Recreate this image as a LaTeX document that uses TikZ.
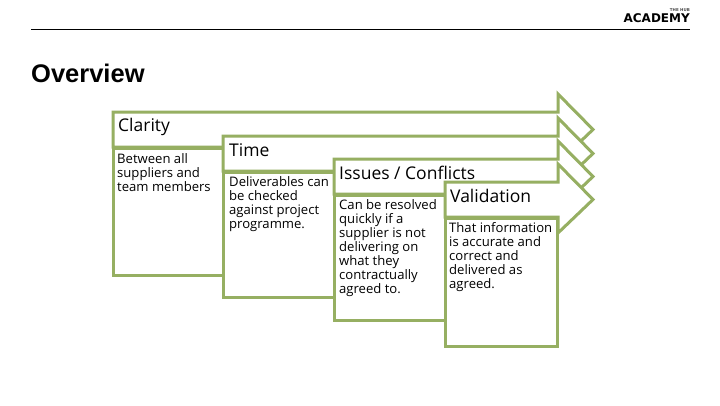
\documentclass[tikz,border=0pt]{standalone}
\usepackage{fontspec}
\setmainfont{Open Sans}
\newfontfamily\arialfont{Liberation Sans}
\newfontfamily\logofont{DejaVu Sans}
\definecolor{leaf}{HTML}{96AF62}
\tikzset{
  panel/.style={draw=leaf,line width=3pt,fill=white,miter limit=10},
  headtext/.style={anchor=west,inner sep=0pt,font=\fontsize{17.5}{20}\selectfont},
  bodytext/.style={anchor=north west,inner sep=0pt,align=left,font=\fontsize{13.1}{14}\selectfont},
}
\newcommand{\arrowpanel}[4]{%
  % #1 left, #2 shaft top, #3 shaft bottom, #4 body bottom
  \draw[panel] (#1,#2) -- (558,#2) -- (558,#2-18) -- (593,{(#2+#3)/2}) -- (558,#3+16) -- (558,#3) -- (#1,#3) -- cycle;
  \draw[panel] (#1,#3+1) rectangle (557,#4);
}
\begin{document}
\begin{tikzpicture}[x=1pt,y=-1pt]
\useasboundingbox (0,0) rectangle (720,405);
\fill[white] (0,0) rectangle (720,405);
\node[anchor=west,inner sep=0pt,font=\arialfont\bfseries\fontsize{25.5}{28}\selectfont] (title) at (31,73.5) {Overview};
\coordinate (ruleL) at (31,29);
\coordinate (ruleR) at (690,29);
\draw[black,line width=0.8pt] (ruleL) -- (ruleR);
\node[anchor=east,inner sep=0pt,font=\logofont\bfseries\fontsize{12}{14}\selectfont] (logo) at (690,18) {ACADEMY};
\node[anchor=east,inner sep=0pt,font=\logofont\bfseries\fontsize{4}{5}\selectfont,text=black!70] (logosmall) at (690,10) {THE HUB};

\arrowpanel{113}{112}{147}{275}
\node[headtext] (h1) at (118,127) {Clarity};
\node[bodytext] (b1) at (117,153) {Between all\\suppliers and\\team members};

\arrowpanel{223}{136}{171}{297}
\node[headtext] (h2) at (229,150) {Time};
\node[bodytext] (b2) at (229,176) {Deliverables can\\be checked\\against project\\programme.};

\arrowpanel{334}{159}{194}{320}
\node[headtext] (h3) at (339,173) {Issues / Conflicts};
\node[bodytext] (b3) at (339,199) {Can be resolved\\quickly if a\\supplier is not\\delivering on\\what they\\contractually\\agreed to.};

\arrowpanel{445}{182}{217}{346}
\node[headtext] (h4) at (450,196) {Validation};
\node[bodytext] (b4) at (449,222) {That information\\is accurate and\\correct and\\delivered as\\agreed.};
\end{tikzpicture}
\end{document}
